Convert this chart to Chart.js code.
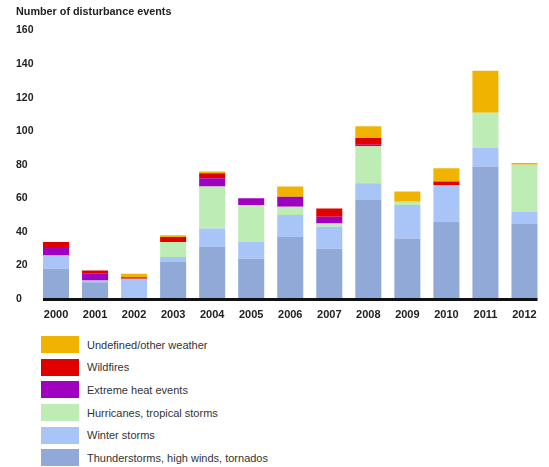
<!DOCTYPE html>
<html>
<head>
<meta charset="utf-8">
<script src="https://cdn.jsdelivr.net/npm/chart.js@4/dist/chart.umd.min.js"></script>
<style>
  html, body { margin: 0; padding: 0; background: #fff; }
  #wrap { position: relative; width: 549px; height: 467px; }
  #chartBox { position: absolute; left: 0; top: 0; width: 549px; height: 326px; }
  #legend { position: absolute; left: 41px; top: 336px; margin: 0; padding: 0; list-style: none;
            font-family: "Liberation Sans", Arial, sans-serif; font-size: 11px; color: #333; }
  #legend li { display: flex; align-items: center; height: 17px; margin-bottom: 5.7px; }
  #legend .box { width: 38px; height: 17px; margin-right: 8px; flex: none; }
</style>
</head>
<body>
<div id="wrap">
  <div id="chartBox"><canvas id="c"></canvas></div>
  <ul id="legend"></ul>
</div>
<script>
const years = ["2000","2001","2002","2003","2004","2005","2006","2007","2008","2009","2010","2011","2012"];
const thunderstorms = [18,10,0,22,31,24,37,30,59,36,46,79,45];
const winterStorms  = [8,1,12,3,11,10,13,13,10,20,22,11,7];
const hurricanes    = [0,0,0,9,25,22,5,2,22,2,0,21,28];
const extremeHeat   = [5,4,0,0,5,4,6,4,1,0,0,0,0];
const wildfires     = [3,2,1,3,3,0,0,5,4,0,2,0,0];
const undefinedOther= [0,0,2,1,1,0,6,0,7,6,8,25,1];
const yTicks = [0,20,40,60,80,100,120,140,160];

const seriesNames = ["Thunderstorms, high winds, tornados","Winter storms","Hurricanes, tropical storms","Extreme heat events","Wildfires","Undefined/other weather"];
const seriesColors = ["#90a9d6","#a9c5f8","#bdedb5","#a000c0","#e00000","#f0b400"];
const seriesData = [thunderstorms, winterStorms, hurricanes, extremeHeat, wildfires, undefinedOther];

const datasets = seriesNames.map((n, i) => ({
  label: n,
  data: seriesData[i],
  backgroundColor: seriesColors[i],
  borderWidth: 0,
  barPercentage: 0.667,
  categoryPercentage: 1.0
}));

const axisLine = {
  id: 'axisLine',
  afterDatasetsDraw(chart) {
    const ctx = chart.ctx;
    const y = chart.scales.y.getPixelForValue(0);
    const m = chart.getDatasetMeta(0).data;
    const first = m[0], last = m[m.length - 1];
    const x0 = first.x - first.width / 2;
    const x1 = last.x + last.width / 2;
    ctx.save();
    ctx.strokeStyle = '#111';
    ctx.lineWidth = 3;
    ctx.beginPath();
    ctx.moveTo(x0, y + 0.5);
    ctx.lineTo(x1, y + 0.5);
    ctx.stroke();
    ctx.restore();
  }
};

const chart = new Chart(document.getElementById('c'), {
  type: 'bar',
  data: { labels: years, datasets },
  options: {
    responsive: true,
    maintainAspectRatio: false,
    animation: false,
    layout: { padding: { left: 16, right: 5, top: 6, bottom: 0 } },
    plugins: {
      legend: { display: false },
      tooltip: { enabled: false },
      title: {
        display: true,
        text: 'Number of disturbance events',
        align: 'start',
        color: '#222',
        font: { family: '"Liberation Sans", Arial, sans-serif', size: 10.8, weight: 'bold' },
        padding: { top: 0, bottom: 11.6 }
      }
    },
    scales: {
      x: {
        stacked: true,
        grid: { display: false, drawTicks: false },
        border: { display: false },
        ticks: { color: '#222', padding: 9, maxRotation: 0,
                 font: { family: '"Liberation Sans", Arial, sans-serif', size: 11, weight: 'bold' } },
        afterFit(s) { s.height = 27; }
      },
      y: {
        stacked: true,
        min: 0, max: 160,
        afterBuildTicks(s) { s.ticks = yTicks.map(v => ({ value: v })); },
        grid: { display: false, drawTicks: false },
        border: { display: false },
        ticks: { color: '#222', crossAlign: 'far', padding: 0,
                 font: { family: '"Liberation Sans", Arial, sans-serif', size: 10.5, weight: 'bold' } },
        afterFit(s) { s.width = 20.5; }
      }
    }
  },
  plugins: [axisLine]
});

const ul = document.getElementById('legend');
chart.data.datasets.slice().reverse().forEach(ds => {
  const li = document.createElement('li');
  const b = document.createElement('span');
  b.className = 'box';
  b.style.background = ds.backgroundColor;
  const t = document.createElement('span');
  t.textContent = ds.label;
  li.appendChild(b); li.appendChild(t);
  ul.appendChild(li);
});
</script>
</body>
</html>
